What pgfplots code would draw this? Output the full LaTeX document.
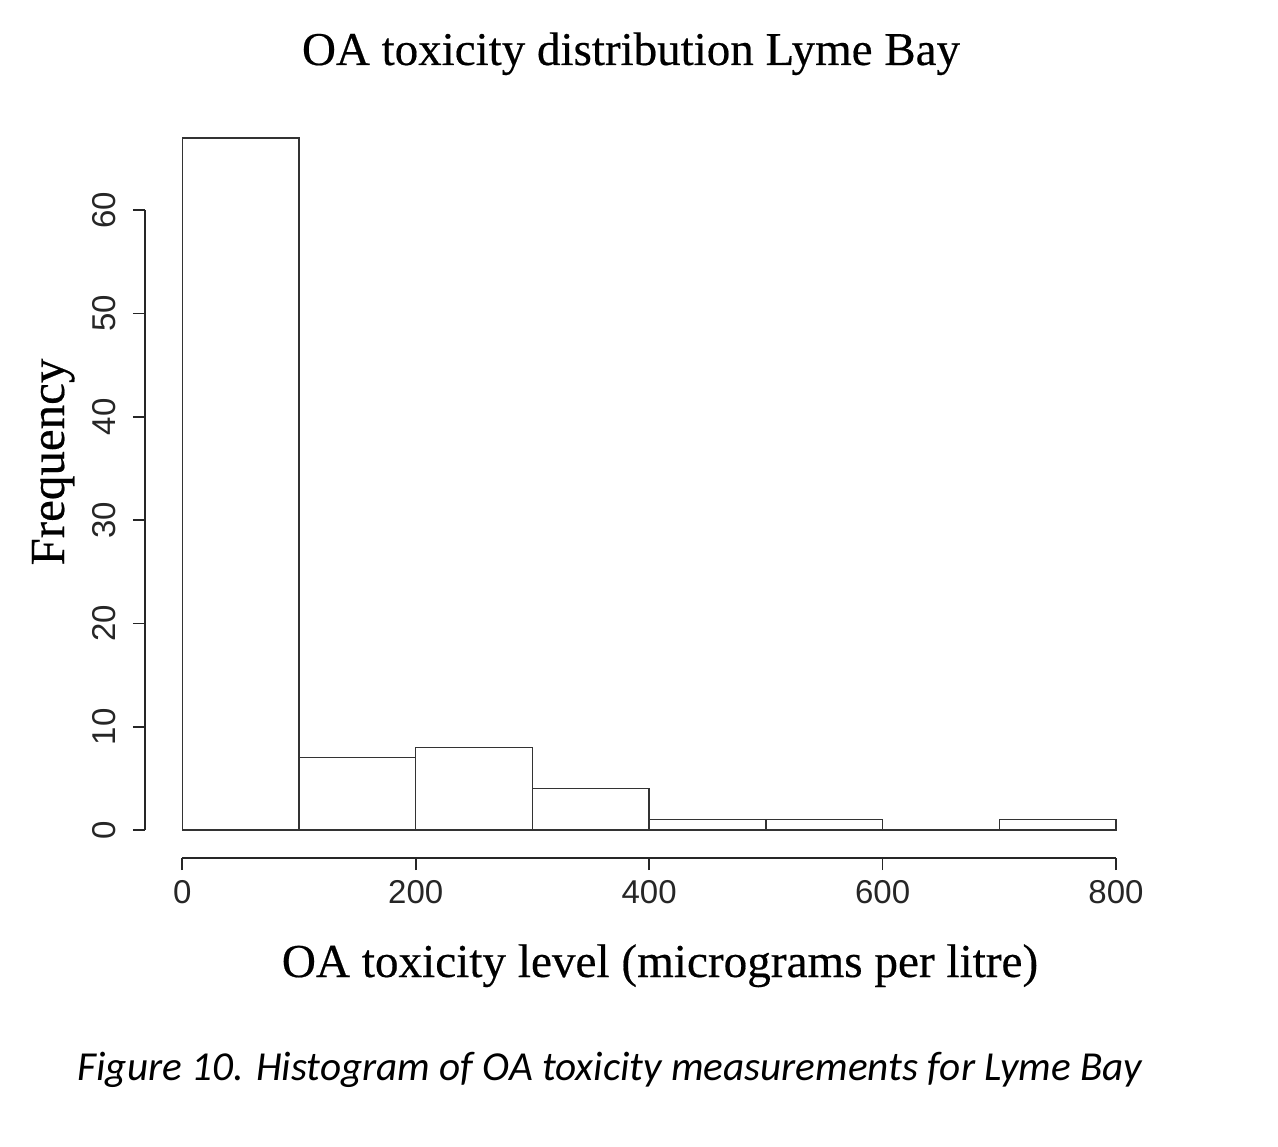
\documentclass[border=0pt]{standalone}
\usepackage{fontspec}
\setmainfont{Liberation Serif}
\newfontfamily\ticksans{Liberation Sans}
\newfontfamily\capfont{Carlito}
\newfontfamily\ttlfont[FakeBold=0.4]{Liberation Serif}
\usepackage{pgfplots}
\pgfplotsset{compat=1.18}

\begin{document}
\begin{tikzpicture}
\begin{axis}[
    at={(72.5pt,144pt)}, anchor=south west,
    scale only axis, width=485.5pt, height=360pt,
    xmin=-32, xmax=800, ymin=-2.71, ymax=67,
    axis line style={draw=none},
    xtick={0,200,...,800}, ytick={0,10,...,60},
    xtick pos=bottom, ytick pos=left,
    tick align=outside, major tick length=6pt,
    tick style={black!85, line width=0.9pt},
    ticklabel style={font=\ticksans\fontsize{16.5}{16.5}\selectfont, text=black!85},
    /pgf/number format/assume math mode=true,
    xticklabel style={yshift=-1.5pt},
    % shifts act in the rotated frame: yshift moves the label left
    yticklabel style={rotate=90, anchor=south, yshift=5pt},
    clip=false,
]
\addplot[ybar interval, draw=black!80, fill=white, line width=0.7pt]
    coordinates {(0,67) (100,7) (200,8) (300,4) (400,1) (500,1) (600,0) (700,1) (800,1)};
\draw[black!85, line width=0.9pt] (axis cs:0,-2.71) -- (axis cs:800,-2.71);
\draw[black!85, line width=0.9pt] (axis cs:-32,0) -- (axis cs:-32,60);
\end{axis}
\node[anchor=base, font=\ttlfont\fontsize{23.5}{23.5}\selectfont] at (315.5pt,540.5pt) {OA toxicity distribution Lyme Bay};
\node[anchor=base, font=\ttlfont\fontsize{23.6}{23.6}\selectfont] at (330pt,84.5pt) {OA toxicity level (micrograms per litre)};
\node[anchor=base, rotate=90, font=\ttlfont\fontsize{24.5}{24.5}\selectfont] at (32pt,342pt) {Frequency};
\node[anchor=base, font=\capfont\itshape\fontsize{20.6}{20.6}\selectfont] at (305pt,33pt) {Figure 10. Histogram of OA toxicity measurements for Lyme Bay};
\pgfresetboundingbox
\path (0,0) rectangle (639pt,573pt);
\end{tikzpicture}
\end{document}
